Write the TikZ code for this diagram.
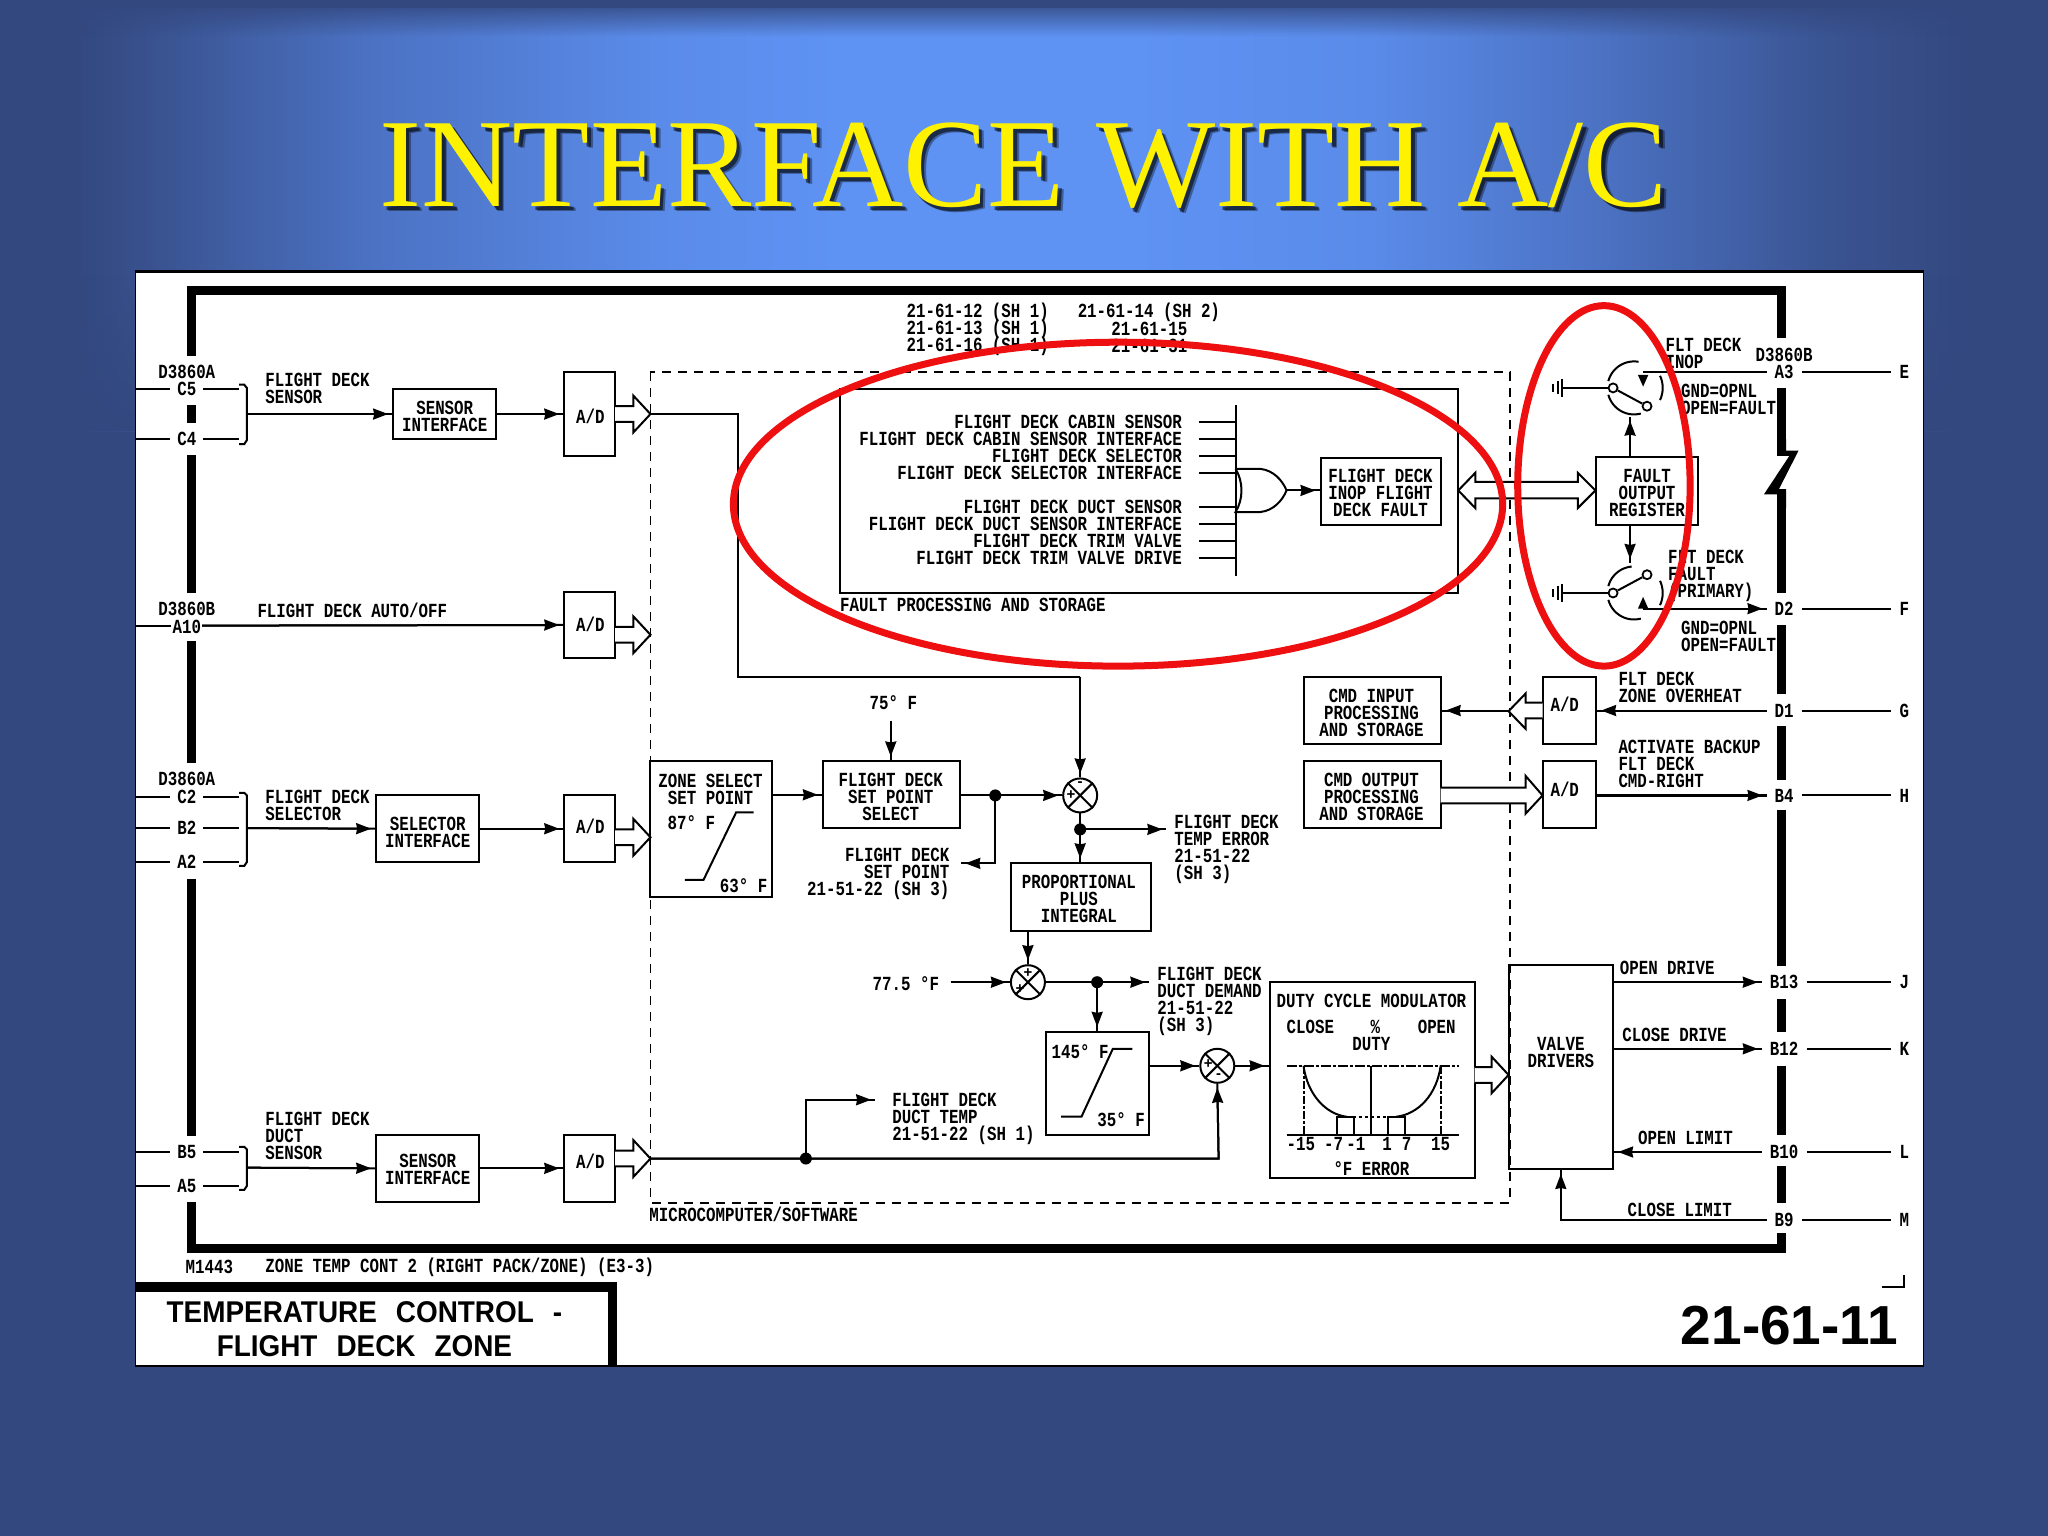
\documentclass[tikz,border=0pt]{standalone}
\usepackage{fontspec}
\usetikzlibrary{arrows.meta,fit,calc,fadings}
\newfontfamily\dia[FakeStretch=0.79]{Liberation Mono}
\newfontfamily\hdg{Liberation Serif}
\newfontfamily\blk{Liberation Sans}
\newfontfamily\blkn[FakeStretch=0.93]{Liberation Sans}
\lineskiplimit=-20pt
\normallineskiplimit=-20pt
\newcommand{\tbfont}{\blkn\fontsize{30}{34}\selectfont\bfseries\spaceskip=19pt\relax}
\definecolor{bgbase}{HTML}{33487F}
\definecolor{glowA}{HTML}{5E92F3}
\definecolor{glowM}{HTML}{5A8BE9}
\definecolor{glowL}{HTML}{4B71C2}
\definecolor{glowD}{HTML}{3A5492}
\definecolor{redring}{HTML}{EE1010}
\pgfdeclarehorizontalshading{bgh}{100bp}{color(0bp)=(bgbase); color(26.9bp)=(bgbase); color(29bp)=(glowD); color(33.9bp)=(glowL); color(41bp)=(glowM); color(45.4bp)=(glowA); color(52.7bp)=(glowA); color(58.5bp)=(glowM); color(64.2bp)=(glowL); color(69.6bp)=(glowD); color(73bp)=(bgbase); color(100bp)=(bgbase)}
\tikzfading[name=fadetop,top color=transparent!0,bottom color=transparent!100]
\tikzfading[name=fadebot,top color=transparent!100,bottom color=transparent!0]
\newcommand{\harrowR}[4]{% x0, base, tip, y
  \draw[wire,fill=white] (#1,#4-6)--(#2,#4-6)--(#2,#4-14)--(#3,#4)--(#2,#4+14)--(#2,#4+6)--(#1,#4+6);}
\newcommand{\swarc}[5]{\draw[wire] plot[smooth,domain=#4:#5,samples=16] ({#1+#3*cos(\x)},{#2-#3*sin(\x)});}
\tikzset{
  x=1.30612pt,y=-1.30612pt,
  wire/.style={line width=2pt,line cap=butt},
  arw/.style={postaction={draw,line width=2pt,-{Stealth[length=15pt,width=11pt,inset=1pt]},shorten >=4pt}},
  bar/.style={line width=9pt,line cap=butt,line join=miter},
  lbl/.style={font=\dia\fontsize{20}{17}\selectfont\bfseries,inner sep=0pt,text=black},
  bx/.style={draw,line width=2pt,inner sep=0pt},
  pinL/.style={lbl,inner xsep=7pt},
  pinR/.style={lbl,inner xsep=8pt},
  dot/.style={circle,fill=black,inner sep=0pt,minimum size=12pt},
  sumj/.style={circle,draw,line width=2pt,inner sep=0pt,minimum size=34pt,fill=white},
  sgn/.style={font=\blk\fontsize{15}{15}\selectfont\bfseries,inner sep=0pt},
  ring/.style={draw=redring,line width=7pt},
  dashbox/.style={line width=1.8pt,dash pattern=on 9pt off 7pt},
}
\begin{document}
\begin{tikzpicture}
\useasboundingbox (0,0) rectangle (1568,1176);
\fill[bgbase] (0,0) rectangle (1568,1176);
\shade[shading=bgh] (0,0) rectangle (1568,330);
\fill[bgbase,path fading=fadetop] (0,0) rectangle (1568,28);
\fill[bgbase] (0,0) rectangle (1568,6);
\fill[bgbase,path fading=fadebot] (0,210) rectangle (1568,330);
\node[font=\hdg\fontsize{126.3}{126}\selectfont,text=black,opacity=0.35,inner sep=0pt] (ttlsa) at (788,131) {INTERFACE WITH A/C};
\node[font=\hdg\fontsize{126.3}{126}\selectfont,text=black,opacity=0.55,inner sep=0pt] (ttlsb) at (786.5,129.5) {INTERFACE WITH A/C};
\node[font=\hdg\fontsize{126.3}{126}\selectfont,text=yellow,inner sep=0pt] (ttl) at (784,127) {INTERFACE WITH A/C};
\fill[white,draw=black,line width=0.8pt] (103.5,208.5) rectangle (1472.5,1046);
\draw[line width=2.4pt] (103,208)--(1473,208);
\draw[line width=2.4pt] (103,1046)--(1473,1046);

% thick frame
\draw[bar] (146.5,272.6)--(146.5,222.5)--(1364,222.5)--(1364,259);
\draw[bar] (146.5,310)--(146.5,323.5);
\draw[bar] (146.5,348.3)--(146.5,454);
\draw[bar] (146.5,491)--(146.5,584);
\draw[bar] (146.5,672.7)--(146.5,869.6);
\draw[bar] (146.5,920.5)--(146.5,955.5)--(1364,955.5)--(1364,944);
\draw[bar] (1364,297)--(1364,337);
\fill (1360.6,336)--(1367.4,336)--(1367.4,345)--(1377,345)--(1362,374.5)--(1367.4,374.5)--(1367.4,389)--(1360.6,389)--(1360.6,378.5)--(1350.5,378.5)--(1370,349)--(1360.6,349)--cycle;
\draw[bar] (1364,388)--(1364,454);
\foreach \a/\b in {478.5/531,556/597,620.5/739.5,765/790,816/869,893/921}
  \draw[bar] (1364,\a)--(1364,\b);

% top references
\node[lbl,anchor=west,align=left] (ref1) at (694,252) {21-61-12 (SH 1)\\21-61-13 (SH 1)\\21-61-16 (SH 1)};
\node[lbl,anchor=west] (ref2) at (825,239) {21-61-14 (SH 2)};
\node[lbl] (ref3) at (880,252) {21-61-15};
\node[lbl] (ref4) at (880,265) {21-61-31};

% dashed software box
\draw[dashbox] (498,285) rectangle (1156,921);
\node[lbl,anchor=west] (micro) at (497,930) {MICROCOMPUTER/SOFTWARE};

% left pins
\foreach \nm/\t/\y in {pc/C5/298,pd/C4/336,pf/C2/610,pg/B2/634,ph/A2/660,pi/B5/882,pj/A5/908}{
  \node[pinL] (\nm) at (143,\y) {\t};
  \coordinate (\nm L) at (104,\y);
  \coordinate (\nm B) at (183,\y);
  \draw[wire] (\nm L)--(\nm.west);
  \draw[wire] (\nm.east)--(\nm B);
}
\node[lbl,inner xsep=1pt] (pe) at (143,480) {A10};
\coordinate (peL) at (104,479);
\draw[wire] (peL)--(pe.west|-peL);
\node[lbl] (cA) at (143,285) {D3860A};
\node[lbl] (cB) at (143,466) {D3860B};
\node[lbl] (cC) at (143,596) {D3860A};
% brackets
\coordinate (brA) at (190,317);
\coordinate (brB) at (190,634);
\coordinate (brC) at (190,894);
\draw[wire] (183,294.5)--(187,294.5)--(189,297)--(189,337)--(187,340)--(183,340);
\draw[wire] (183,607)--(187,607)--(189,609)--(189,660)--(187,663)--(183,663);
\draw[wire] (183,878)--(187,878)--(189,880)--(189,908)--(187,911)--(183,911);

% row 1
\node[lbl,anchor=west,align=left] (t1) at (203,297.5) {FLIGHT DECK\\SENSOR};
\node[bx,fit={(301,298)(380,336)}] (si1) {};
\node[lbl,align=center] (si1t) at (340.5,319) {SENSOR\\INTERFACE};
\node[bx,fit={(432,285)(471,349)}] (ad1) {};
\node[lbl] (ad1t) at (452,319) {A/D};
\draw[wire,arw] (brA)--(si1.west);
\draw[wire,arw] (si1.east)--(ad1.west);
\harrowR{471}{485}{498}{317}
% row 2
\node[lbl,anchor=west] (t2) at (197,467) {FLIGHT DECK AUTO/OFF};
\node[bx,fit={(432,453)(471,504)}] (ad2) {};
\node[lbl] (ad2t) at (452,478) {A/D};
\draw[wire,arw] (pe.east|-peL)--(ad2.west);
\harrowR{471}{485}{498}{486}
% row 3
\node[lbl,anchor=west,align=left] (t3) at (203,616.5) {FLIGHT DECK\\SELECTOR};
\node[bx,fit={(288,609)(367,660)}] (si2) {};
\node[lbl,align=center] (si2t) at (327.5,637.5) {SELECTOR\\INTERFACE};
\node[bx,fit={(432,609)(471,660)}] (ad3) {};
\node[lbl] (ad3t) at (452,633) {A/D};
\draw[wire,arw] (brB)--(si2.west);
\draw[wire,arw] (si2.east)--(ad3.west);
\harrowR{471}{485}{498}{641}
% row 4
\node[lbl,anchor=west,align=left] (t4) at (203,870) {FLIGHT DECK\\DUCT\\SENSOR};
\node[bx,fit={(288,869)(367,920)}] (si3) {};
\node[lbl,align=center] (si3t) at (327.5,895.5) {SENSOR\\INTERFACE};
\node[bx,fit={(432,869)(471,920)}] (ad4) {};
\node[lbl] (ad4t) at (452,889) {A/D};
\draw[wire,arw] (brC)--(si3.west);
\draw[wire,arw] (si3.east)--(ad4.west);
\harrowR{471}{485}{498}{887}

% fault box
\node[bx,fit={(643,298)(1116,454)}] (fault) {};
\node[lbl,anchor=west] (faultt) at (643,463) {FAULT PROCESSING AND STORAGE};
\foreach \n/\y/\t in {a/323/FLIGHT DECK CABIN SENSOR,b/336/FLIGHT DECK CABIN SENSOR INTERFACE,c/349/FLIGHT DECK SELECTOR,d/362/FLIGHT DECK SELECTOR INTERFACE,e/388/FLIGHT DECK DUCT SENSOR,f/401/FLIGHT DECK DUCT SENSOR INTERFACE,g/414/FLIGHT DECK TRIM VALVE,h/427/FLIGHT DECK TRIM VALVE DRIVE}{
  \node[lbl,anchor=east] (fl\n) at (905,\y) {\t};
  \coordinate (flb\n) at (946,\y);
  \draw[wire] (918,\y)--(flb\n);
}
\draw[wire] (946,310)--(946,441);
\coordinate (gateout) at (985,375.5);
\draw[wire] (946,359)--(965,359) .. controls (975,360) and (982,368) .. (gateout) .. controls (982,383) and (975,391) .. (965,392)--(946,392) .. controls (952,382) and (952,369) .. (946,359);
\node[bx,fit={(1011,351)(1103,402)}] (inop) {};
\node[lbl,align=center] (inopt) at (1057,377.5) {FLIGHT DECK\\INOP FLIGHT\\DECK FAULT};
\draw[wire,arw] (gateout)--(gateout-|inop.west);
% fault register
\node[bx,fit={(1222,350)(1300,402)}] (reg) {};
\node[lbl,align=center] (regt) at (1261,377.5) {FAULT\\OUTPUT\\REGISTER};
\draw[wire,fill=white] (1129.5,369)--(1208,369)--(1208,362)--(1221.5,375.5)--(1208,389)--(1208,381.5)--(1129.5,381.5)--(1129.5,389)--(1116.5,375.5)--(1129.5,362)--cycle;

% switches
\coordinate (sw1b) at (1248,319);
\coordinate (sw2t) at (1248,431);
\draw[wire,arw] (sw1b|-reg.north)--(sw1b);
\draw[wire,arw] (sw2t|-reg.south)--(sw2t);
\swarc{1251}{297}{20.3}{80}{165}
\swarc{1251}{297}{20.3}{195}{285}
\swarc{1251}{297}{22}{25}{-25}
\swarc{1251}{454}{20.3}{95}{165}
\swarc{1251}{454}{20.3}{195}{285}
\swarc{1251}{454}{22}{25}{-25}
\node[circle,draw,line width=1.8pt,inner sep=0pt,minimum size=9pt,fill=white] (pv1) at (1235,297) {};
\node[circle,draw,line width=1.8pt,inner sep=0pt,minimum size=9pt,fill=white] (ct1) at (1261,311) {};
\node[circle,draw,line width=1.8pt,inner sep=0pt,minimum size=9pt,fill=white] (pv2) at (1235,454) {};
\node[circle,draw,line width=1.8pt,inner sep=0pt,minimum size=9pt,fill=white] (ct2) at (1261,440) {};
\draw[wire] (pv1)--(ct1);
\draw[wire] (pv2)--(ct2);
\coordinate (gn1) at (1196,297);
\coordinate (gn2) at (1196,454);
\draw[wire] (gn1)--(pv1.west);
\draw[wire] (gn2)--(pv2.west);
\foreach \y in {297,454}{
  \draw[wire] (1196,\y-7)--(1196,\y+7);
  \draw[wire] (1192.5,\y-5)--(1192.5,\y+5);
  \draw[wire] (1189,\y-3)--(1189,\y+3);
}
\fill (1254,287)--(1262,287)--(1258,296)--cycle;
\fill (1254,466)--(1262,466)--(1258,457)--cycle;

% right pins
\foreach \nm/\t/\dn/\y in {ra/A3/E/285,rb/D2/F/466,rc/D1/G/544,rd/B4/H/609,re/B13/J/752,rf/B12/K/803,rg/B10/L/882,rh/B9/M/934}{
  \node[pinR] (\nm) at (1366,\y) {\t};
  \node[pinR] (\nm d) at (1458,\y) {\dn};
  \draw[wire] (\nm.east)--(\nm d.west);
}
\node[lbl] (cD) at (1366,272) {D3860B};
\draw[wire] (1258,285)--(ra.west);
\coordinate (sw2o) at (1258,466);
\draw[wire,arw] (sw2o)--(rb.west);
\node[lbl,anchor=west,align=left] (u1) at (1275,270.5) {FLT DECK\\INOP};
\node[lbl,anchor=west,align=left] (u2) at (1287,305.5) {GND=OPNL\\OPEN=FAULT};
\node[lbl,anchor=west,align=left] (u3) at (1277,441) {FLT DECK\\FAULT\\(PRIMARY)};
\node[lbl,anchor=west,align=left] (u4) at (1287,487) {GND=OPNL\\OPEN=FAULT};

% CMD blocks
\node[bx,fit={(998,518)(1103,570)}] (cmdi) {};
\node[lbl,align=center] (cmdit) at (1050,545.5) {CMD INPUT\\PROCESSING\\AND STORAGE};
\node[bx,fit={(998,583)(1103,634)}] (cmdo) {};
\node[lbl,align=center] (cmdot) at (1050,610) {CMD OUTPUT\\PROCESSING\\AND STORAGE};
\node[bx,fit={(1181,518)(1222,570)}] (ad5) {};
\node[lbl] (ad5t) at (1198,539) {A/D};
\node[bx,fit={(1181,583)(1222,634)}] (ad6) {};
\node[lbl] (ad6t) at (1198,604) {A/D};
\draw[wire,arw] (rc.west)--(rc.west-|ad5.east);
\draw[wire,fill=white] (1181,538)--(1168,538)--(1168,531)--(1155,544.5)--(1168,558)--(1168,550)--(1181,550);
\coordinate (cmdtip) at (1155,544);
\draw[wire,arw] (cmdtip)--(cmdtip-|cmdi.east);
\draw[wire,fill=white] (1103,603)--(1168,603)--(1168,594)--(1181,609)--(1168,623)--(1168,615)--(1103,615);
\draw[line width=3pt] (rd.west-|ad6.east)--(rd.west);
\draw[wire,arw] (rd.west-|ad6.east)--(rd.west);
\node[lbl,anchor=west,align=left] (u5) at (1239,526.5) {FLT DECK\\ZONE OVERHEAT};
\node[lbl,anchor=west,align=left] (u6) at (1239,585) {ACTIVATE BACKUP\\FLT DECK\\CMD-RIGHT};

% valve drivers
\node[bx,fit={(1155,739)(1235,895)}] (vd) {};
\node[lbl,align=center] (vdt) at (1195,805.5) {VALVE\\DRIVERS};
\draw[wire,arw] (re.west-|vd.east)--(re.west);
\draw[wire,arw] (rf.west-|vd.east)--(rf.west);
\draw[wire,arw] (rg.west)--(rg.west-|vd.east);
\coordinate (vdin) at (1195,934);
\draw[wire,arw] (rh.west)--(vdin)--(vdin|-vd.south);
\node[lbl,anchor=west] (u7) at (1240,741) {OPEN DRIVE};
\node[lbl,anchor=west] (u8) at (1242,792) {CLOSE DRIVE};
\node[lbl,anchor=west] (u9) at (1254,871) {OPEN LIMIT};
\node[lbl,anchor=west] (u10) at (1246,926) {CLOSE LIMIT};

% duty cycle
\node[bx,fit={(972,752)(1129,902)}] (duty) {};
\node[lbl] (d1) at (1050,766) {DUTY CYCLE MODULATOR};
\node[lbl,anchor=west] (d2) at (985,786) {CLOSE};
\node[lbl] (d3) at (1053,786) {\%};
\node[lbl] (d4) at (1100,786) {OPEN};
\node[lbl] (d5) at (1050,799) {DUTY};
\draw[wire,dash pattern=on 10pt off 2pt on 3pt off 2pt] (985,816)--(1117,816);
\draw[wire] (985,869)--(1117,869);
\draw[wire] (1050,816)--(1050,869);
\draw[wire,dash pattern=on 8pt off 2pt on 3pt off 2pt] (998,816)--(998,869);
\draw[wire,dash pattern=on 8pt off 2pt on 3pt off 2pt] (1103,816)--(1103,869);
\draw[wire] (998,816) .. controls (1001,838) and (1015,853) .. (1031,855);
\draw[wire] (1103,816) .. controls (1100,838) and (1086,853) .. (1069,855);
\draw[wire,dashed] (1031,855)--(1069,855);
\draw[wire] (1024,869)--(1024,855)--(1037,855)--(1037,869);
\draw[wire] (1063,869)--(1063,855)--(1076,855)--(1076,869);
\foreach \x/\t in {996/-15,1021/-7,1038/-1,1062/1,1077/7,1103/15}
  \node[lbl] at (\x,876) {\t};
\node[lbl] (d6) at (1050,895) {°F ERROR};
\harrowR{1129}{1142}{1155}{823}

% zone select
\node[bx,fit={(498,583)(591,687)}] (zone) {};
\node[lbl,align=center] (z1) at (544,604.5) {ZONE SELECT\\SET POINT};
\node[lbl,anchor=west] (z2) at (511,630) {87° F};
\node[lbl,anchor=west] (z3) at (551,678) {63° F};
\draw[wire] (524.3,673.7)--(538.6,673.7)--(563.6,622)--(577,622);
\node[bx,fit={(630,583)(735,634)}] (spsel) {};
\node[lbl,align=center] (spselt) at (682,610) {FLIGHT DECK\\SET POINT\\SELECT};
\draw[wire,arw] (zone.east|-spsel.west)--(spsel.west);
\node[lbl] (t75) at (684,538) {75° F};
\coordinate (t75b) at (682,552);
\draw[wire,arw] (t75b)--(t75b|-spsel.north);

\node[sumj] (sum1) at (827,609) {};
\draw[wire] (sum1.north west)--(sum1.south east);
\draw[wire] (sum1.north east)--(sum1.south west);
\node[sgn] (s1a) at (820,609) {+};
\node[sgn] (s1b) at (827,600) {-};
\node[dot] (dot1) at (762,609) {};
\draw[wire,arw] (spsel.east|-sum1.west)--(sum1.west);
\coordinate (stp) at (736,661);
\draw[wire,arw] (dot1.center)--(dot1.center|-stp)--(stp);
\node[lbl,anchor=east,align=right] (stpt) at (727,669) {FLIGHT DECK\\SET POINT\\21-51-22 (SH 3)};
\draw[wire] (498,317)--(565,317)--(565,518)--(827,518);
\coordinate (jn1) at (827,518);
\draw[wire,arw] (jn1)--(sum1.north);

\node[bx,fit={(774,661)(881,713)}] (pi) {};
\node[lbl,align=center] (pit) at (826,688.5) {PROPORTIONAL\\PLUS\\INTEGRAL};
\node[dot] (dot2) at (827,635) {};
\draw[wire] (sum1.south)--(dot2.center);
\draw[wire,arw] (dot2.center)--(dot2.center|-pi.north);
\coordinate (terr) at (893,635);
\draw[wire,arw] (dot2.center)--(terr);
\node[lbl,anchor=west,align=left] (terrt) at (899,650.5) {FLIGHT DECK\\TEMP ERROR\\21-51-22\\(SH 3)};

\node[sumj] (sum2) at (787,752) {};
\draw[wire] (sum2.north west)--(sum2.south east);
\draw[wire] (sum2.north east)--(sum2.south west);
\node[sgn] (s2a) at (787,745) {+};
\node[sgn] (s2b) at (781,757) {+};
\draw[wire,arw] (sum2.north|-pi.south)--(sum2.north);
\node[lbl,anchor=west] (t775) at (668,753) {77.5 °F};
\coordinate (t775e) at (728,752);
\draw[wire,arw] (t775e)--(sum2.west);
\node[dot] (dot3) at (840,752) {};
\coordinate (dmd) at (880,752);
\draw[wire,arw] (sum2.east)--(dmd);
\node[lbl,anchor=west,align=left] (dmdt) at (886,767) {FLIGHT DECK\\DUCT DEMAND\\21-51-22\\(SH 3)};

\node[bx,fit={(801,790)(880,869)}] (lim) {};
\node[lbl,anchor=west] (l1) at (805,805) {145° F};
\node[lbl,anchor=west] (l2) at (840,857) {35° F};
\draw[wire] (812.5,855)--(828,855)--(852,803)--(867,803);
\draw[wire,arw] (dot3.center)--(dot3.center|-lim.north);

\node[sumj] (sum3) at (932,816) {};
\draw[wire] (sum3.north west)--(sum3.south east);
\draw[wire] (sum3.north east)--(sum3.south west);
\node[sgn] (s3a) at (925,815) {+};
\node[sgn] (s3b) at (933,824) {-};
\draw[wire,arw] (lim.east|-sum3.west)--(sum3.west);
\draw[wire,arw] (sum3.east)--(sum3.east-|duty.west);

\node[dot] (dot4) at (617,887) {};
\coordinate (ductin) at (498,887);
\draw[wire,arw] (ductin)--(933,887)--(sum3.south);
\coordinate (dtemp) at (670,842);
\draw[wire,arw] (dot4.center)--(dot4.center|-dtemp)--(dtemp);
\node[lbl,anchor=west,align=left] (dtempt) at (683,856.5) {FLIGHT DECK\\DUCT TEMP\\21-51-22 (SH 1)};

% footer
\node[lbl,anchor=west] (m1) at (142,970) {M1443};
\node[lbl,anchor=west] (m2) at (203,970) {ZONE TEMP CONT 2 (RIGHT PACK/ZONE) (E3-3)};
\draw[line width=2pt] (1441,985)--(1458,985)--(1458,976);
\draw[line width=9.5pt] (104,985.5)--(469,985.5)--(469,1046);
\node[font=\tbfont,align=center,inner sep=0pt] (tb) at (279,1018) {TEMPERATURE CONTROL -\\FLIGHT DECK ZONE};
\node[font=\blk\fontsize{55}{55}\selectfont\bfseries,inner sep=0pt] (sheet) at (1370,1015) {21-61-11};

% red rings
\draw[ring] (856,386) ellipse [x radius=294.5,y radius=124];
\draw[ring] (1228,372) ellipse [x radius=66,y radius=138];
\end{tikzpicture}
\end{document}
